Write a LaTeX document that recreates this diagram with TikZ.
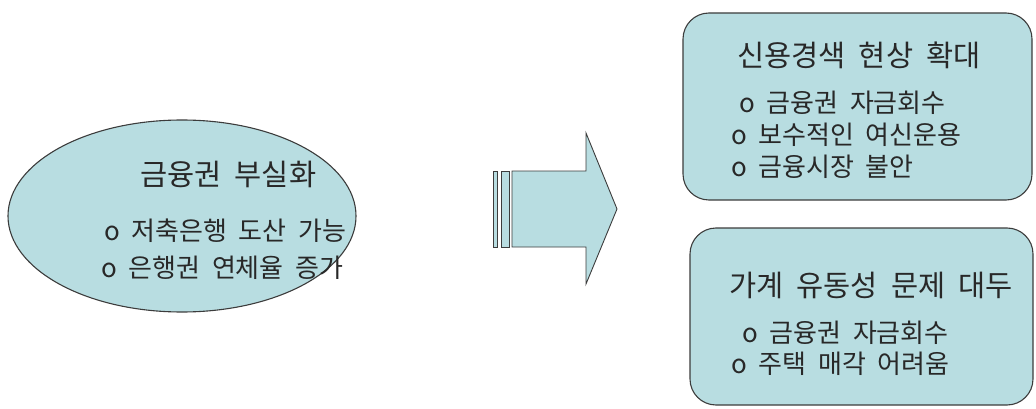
\documentclass[tikz,border=0pt]{standalone}
\usepackage{fontspec}
\usetikzlibrary{shapes.geometric}
\newfontfamily\kr[WordSpace=2.0]{Noto Sans CJK KR}
\definecolor{boxfill}{RGB}{184,221,225}
\definecolor{edge}{RGB}{60,60,60}
\definecolor{ink}{RGB}{40,40,40}
\tikzset{
  shapebox/.style={draw=edge, fill=boxfill, line width=1.1pt},
  txt/.style={inner sep=0pt, text=ink, anchor=west, font=\kr\fontsize{26}{30}\selectfont},
  ttl/.style={inner sep=0pt, text=ink, anchor=west, font=\kr\fontsize{29.5}{33}\selectfont},
}
\begin{document}
\begin{tikzpicture}[x=1pt,y=-1pt]
\useasboundingbox (0,0) rectangle (1036,409);
% ellipse
\node[shapebox, ellipse, minimum width=348pt, minimum height=192pt, inner sep=0pt] (ell) at (182,216) {};
\node[ttl] (e0) at (140,174) {금융권 부실화};
\node[txt] (e1) at (104,231) {o 저축은행 도산 가능};
\node[txt] (e2) at (101,268) {o 은행권 연체율 증가};
% arrow
\draw[shapebox, line width=0.9pt] (493,171) rectangle (497,247);
\draw[shapebox, line width=0.9pt] (501,171) rectangle (509,247);
\draw[shapebox, line width=0.9pt] (512,171) -- (586,171) -- (586,133) -- (617,209) -- (586,284) -- (586,247) -- (512,247) -- cycle;
% top box
\draw[shapebox, rounded corners=26pt] (683,13) rectangle (1032,200);
\node[ttl] (t0) at (737,55) {신용경색 현상 확대};
\node[txt] (t1) at (739,103) {o 금융권 자금회수};
\node[txt] (t2) at (731,135) {o 보수적인 여신운용};
\node[txt] (t3) at (731,167) {o 금융시장 불안};
% bottom box
\draw[shapebox, rounded corners=26pt] (690,228) rectangle (1033,405);
\node[ttl] (b0) at (729,285) {가계 유동성 문제 대두};
\node[txt] (b1) at (742,333) {o 금융권 자금회수};
\node[txt] (b2) at (731,364) {o 주택 매각 어려움};
\end{tikzpicture}
\end{document}
